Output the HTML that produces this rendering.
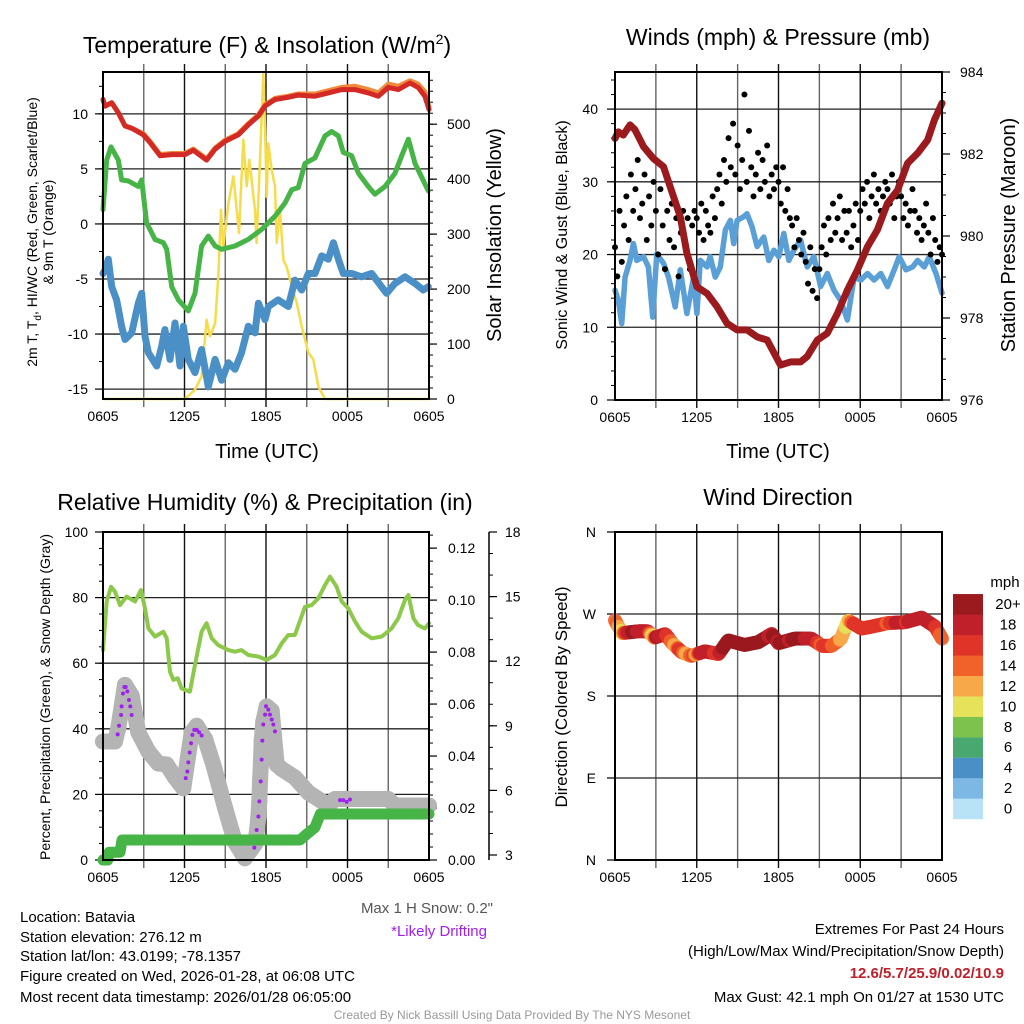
<!DOCTYPE html>
<html><head><meta charset="utf-8"><title>Batavia Mesonet Meteogram</title>
<style>
html,body{margin:0;padding:0;background:#fff;}
svg{display:block;font-family:"Liberation Sans",Arial,sans-serif;}
</style></head>
<body>
<svg id="chart" xmlns="http://www.w3.org/2000/svg" width="1024" height="1024" viewBox="0 0 1024 1024">
<rect x="0" y="0" width="1024" height="1024" fill="#fff"/>
<g id="layer"></g>
<text x="267" y="53" font-size="23" text-anchor="middle">Temperature (F) &amp; Insolation (W/m<tspan font-size="14" dy="-9">2</tspan><tspan dy="9">)</tspan></text>
<text x="778" y="45" font-size="23" text-anchor="middle">Winds (mph) &amp; Pressure (mb)</text>
<text x="265" y="510" font-size="23" text-anchor="middle">Relative Humidity (%) &amp; Precipitation (in)</text>
<text x="778" y="505" font-size="23" text-anchor="middle">Wind Direction</text>
<text x="267" y="458" font-size="20" text-anchor="middle">Time (UTC)</text>
<text x="778" y="458" font-size="20" text-anchor="middle">Time (UTC)</text>
<text transform="translate(37,232) rotate(-90)" font-size="14" text-anchor="middle">2m T, T<tspan font-size="10" dy="4">d</tspan><tspan dy="-4">, HI/WC (Red, Green, Scarlet/Blue)</tspan></text>
<text transform="translate(53,232) rotate(-90)" font-size="14" text-anchor="middle">&amp; 9m T (Orange)</text>
<text transform="translate(501,235) rotate(-90)" font-size="20" text-anchor="middle">Solar Insolation (Yellow)</text>
<text transform="translate(567,235) rotate(-90)" font-size="16" text-anchor="middle">Sonic Wind &amp; Gust (Blue, Black)</text>
<text transform="translate(1015,235) rotate(-90)" font-size="20" text-anchor="middle">Station Pressure (Maroon)</text>
<text transform="translate(50,697) rotate(-90)" font-size="14" text-anchor="middle">Percent, Precipitation (Green), &amp; Snow Depth (Gray)</text>
<text transform="translate(567,697) rotate(-90)" font-size="17" text-anchor="middle">Direction (Colored By Speed)</text>
<text x="1005" y="587" font-size="15" text-anchor="middle">mph</text>
<text x="493" y="913" font-size="15" text-anchor="end" fill="#555">Max 1 H Snow: 0.2"</text>
<text x="487" y="936" font-size="15" text-anchor="end" fill="#a020f0">*Likely Drifting</text>
<g font-size="15">
<text x="20" y="922">Location: Batavia</text>
<text x="20" y="942">Station elevation: 276.12 m</text>
<text x="20" y="961">Station lat/lon: 43.0199; -78.1357</text>
<text x="20" y="981">Figure created on Wed, 2026-01-28, at 06:08 UTC</text>
<text x="20" y="1002">Most recent data timestamp: 2026/01/28 06:05:00</text>
</g>
<g font-size="15" text-anchor="end">
<text x="1004" y="934">Extremes For Past 24 Hours</text>
<text x="1004" y="956">(High/Low/Max Wind/Precipitation/Snow Depth)</text>
<text x="1004" y="978" fill="#c0202a" font-weight="bold">12.6/5.7/25.9/0.02/10.9</text>
<text x="1004" y="1002">Max Gust: 42.1 mph On 01/27 at 1530 UTC</text>
</g>
<text x="512" y="1019" font-size="12" text-anchor="middle" fill="#999">Created By Nick Bassill Using Data Provided By The NYS Mesonet</text>
</svg>
<script>
const timeLabels = ["0605","1205","1805","0005","0605"];
const tHours = [0,0.15,0.64,1.13,1.62,2.11,2.97,3.46,4.2,5.06,6.04,6.65,7.63,8.25,8.98,9.96,10.7,11.44,11.93,12.66,13.64,14.38,15.6,16.59,17.57,18.55,19.53,20.27,21.0,21.74,22.6,23.2,23.7,24];
const tRed = [11.3,10.7,11.0,10.1,8.9,8.7,8.1,7.4,6.2,6.3,6.3,6.7,5.8,6.8,7.5,8.1,9.0,9.8,10.7,11.3,11.5,11.7,11.6,11.9,12.2,12.2,11.9,11.6,12.4,12.2,12.8,12.4,11.6,10.4];
const tOrange = [11.3,10.7,11.0,10.1,8.9,8.7,8.2,7.5,6.3,6.4,6.4,6.8,5.9,6.9,7.6,8.2,9.1,9.9,10.8,11.4,11.6,11.8,11.8,12.1,12.4,12.5,12.2,11.9,12.7,12.5,13.0,12.7,12.0,10.6];
const gHours = [0,0.27,0.59,1.13,1.37,1.87,2.6,2.85,3.21,3.83,4.44,4.69,5.06,5.55,6.28,6.77,7.26,7.75,8.25,8.74,9.72,10.7,11.68,12.66,13.4,13.89,14.38,14.87,15.6,16.34,16.83,17.33,17.69,18.3,18.8,19.53,20.02,20.76,21.5,21.99,22.48,22.97,23.95];
const tGreen = [1.3,5.8,7.0,5.8,4.0,3.9,3.4,4.0,0.1,-1.4,-1.7,-2.3,-5.7,-6.9,-7.9,-6.3,-2.0,-1.1,-2.0,-2.3,-2.0,-1.4,-0.5,0.7,1.9,3.1,3.3,5.5,6.0,8.0,8.4,8.0,6.5,6.2,4.6,3.4,2.7,3.4,4.6,6.2,7.7,5.5,3.0];
const bHours = [0,0.15,0.39,0.64,1.0,1.37,1.62,2.11,2.6,2.85,3.09,3.34,3.95,4.32,4.56,4.93,5.3,5.67,5.91,6.28,6.77,7.26,7.75,8.25,8.74,9.23,9.72,10.2,10.7,11.19,11.44,11.93,12.17,12.9,13.64,14.13,14.63,15.12,15.61,16.1,16.59,16.96,17.33,17.69,18.3,19.04,19.78,20.5,20.88,21.5,22.23,22.97,23.58,23.95];
const tBlue = [-4.5,-4.2,-3.2,-5.7,-6.9,-9.3,-10.5,-9.9,-7.2,-6.3,-10.2,-11.7,-12.9,-11.1,-9.6,-12.3,-9.0,-12.9,-9.3,-12.3,-13.5,-11.4,-14.8,-12.3,-14.2,-12.6,-13.2,-11.7,-9.3,-9.9,-7.2,-8.7,-7.5,-6.9,-7.5,-5.1,-6.0,-4.5,-4.5,-2.9,-3.2,-1.7,-3.2,-4.5,-4.5,-4.8,-4.5,-5.7,-6.3,-5.4,-4.8,-5.4,-6.0,-5.7];
const sHours = [0,6.04,6.77,7.26,7.63,7.88,8.25,8.49,8.69,8.86,9.23,9.6,9.84,10.01,10.33,10.58,10.77,10.94,11.19,11.31,11.56,11.8,11.93,12.05,12.17,12.42,12.66,12.79,13.03,13.28,13.52,13.89,14.26,14.63,15.12,15.48,15.85,16.34,24];
const solar = [0,0,17,41,144,114,138,223,344,278,356,405,344,302,472,387,435,399,344,284,435,593,496,368,465,417,387,284,344,253,241,205,175,132,84,72,23,0,0];
const tempTicks = [-15,-10,-5,0,5,10];
const solarTicks = [0,100,200,300,400,500];
const pHours = [0,0.25,0.61,1.1,1.47,2.09,2.82,3.56,4.05,4.79,5.28,6.01,6.75,7.48,8.22,8.96,9.69,10.43,11.17,12.15,12.88,13.62,14.11,14.85,15.58,16.32,17.06,17.79,18.53,19.26,20.0,20.74,21.47,22.21,22.94,23.44,24];
const pressure = [982.38,982.54,982.46,982.71,982.59,982.18,981.89,981.69,981.2,980.47,979.58,978.76,978.6,978.28,977.87,977.71,977.71,977.54,977.46,976.85,976.93,976.93,977.06,977.46,977.63,978.11,978.68,979.17,979.74,980.15,980.8,981.12,981.77,982.02,982.34,982.83,983.24];
const wHours = [0,0.25,0.49,0.74,1.1,1.35,1.6,2.09,2.45,2.77,3.07,3.56,3.93,4.42,4.79,5.28,5.77,6.01,6.26,6.75,6.99,7.36,7.73,8.1,8.47,8.71,8.96,9.45,9.69,10.06,10.43,10.92,11.29,11.66,12.02,12.39,12.76,13.13,13.62,14.11,14.6,15.09,15.58,16.07,16.56,17.06,17.55,18.04,18.53,19.02,19.51,20.0,20.49,20.86,21.35,21.84,22.21,22.7,23.07,23.56,24];
const wind = [15.1,13.7,10.5,16.9,19.2,21.5,19.2,19.7,18.3,11.4,20.1,18.8,16.9,12.8,17.9,11.9,16.9,11.9,19.2,18.3,19.7,16.9,18.3,23.4,24.7,21.5,24.7,25.2,25.6,23.8,21.1,22.4,19.2,20.6,19.7,22.9,19.2,20.6,22.0,18.3,19.7,15.6,17.4,15.1,13.7,11.0,16.9,16.5,17.4,16.5,17.4,15.6,17.9,19.7,17.9,18.3,19.2,18.3,19.7,17.4,14.7];
const gusts = [21,17,26,19,24,28, 22,31,26,29,33,25, 27,31,22,28,24,30, 26,20,29,24,18,26, 22,27,21,25,17,23, 26,21,25,18,24,26, 25,23,27,22,26,24, 23,28,25,29,31,27, 33,30,36,32,38,31, 35,29,33,42,30,37, 32,28,31,34,29,33, 30,35,28,31,29,32, 30,27,32,26,29,25, 24,21,25,22,20,23, 19,16,21,15,18,14, 18,21,24,20,25,22, 27,23,25,28,22,26, 23,26,21,24,27,22, 26,29,27,30,25,28, 31,27,29,26,28,30, 29,27,31,25,28,30, 28,25,27,24,26,29, 26,23,25,22,24,27, 23,20,25,22,19,21, 20];
const windTicks = [0,10,20,30,40];
const pressTicks = [976,978,980,982,984];
const rhHours = [0,0.27,0.59,0.88,1.25,1.74,2.36,2.8,3.09,3.34,3.83,4.44,4.69,4.93,5.18,5.5,5.79,6.4,6.77,7.26,7.63,8.0,8.49,9.23,9.72,10.2,10.7,11.44,12.05,12.66,13.15,13.64,14.13,14.87,15.36,15.85,16.34,16.71,17.2,17.57,18.06,18.55,19.04,19.78,20.52,21.25,21.74,22.23,22.48,22.85,23.2,23.7,24];
const rh = [64,78.8,83.3,81.8,77.7,80.3,78.8,82.3,76.7,70.6,68.1,69.6,67.6,57.4,54.9,55.4,52.3,51.3,59.5,69.6,72.2,67.6,65.5,64,63.5,64,62.5,62,61,62.5,66,68.6,68.6,77.2,77.7,79.8,83.8,86.4,83.3,78.8,76.7,72.7,69.6,67.6,68.1,70.6,73.7,79.3,80.8,73.7,71.6,70.6,72.2];
const precipHours = [0,0.35,0.45,1.25,1.4,14.5,14.9,15.6,16.0,24];
const precip = [0,0,0.003,0.003,0.0077,0.0077,0.0095,0.0125,0.0177,0.0177];
const snowHours = [0,0.88,1.13,1.62,2.11,2.6,3.34,4.07,4.69,5.3,5.91,6.53,6.9,7.51,8.12,8.98,9.72,10.45,11.19,11.36,11.44,11.51,11.56,11.63,11.68,11.8,12.05,12.42,12.79,13.15,14.13,15.12,16.1,16.59,17.08,18.55,21.0,21.5,24];
const snow = [8.27,8.27,8.9,10.9,10.4,8.7,7.8,7.25,7.2,6.6,6.1,8.7,9.0,8.4,7.2,5.2,3.6,2.85,3.5,4.25,4.8,5.5,6.4,7.4,8.3,9.2,9.9,9.7,7.2,7.0,6.6,5.9,5.5,5.3,5.6,5.6,5.6,5.3,5.3];
const driftHours = [1.08,1.18,1.33,1.37,1.47,1.57,1.67,1.79,1.91,2.01,2.11, 6.09,6.21,6.28,6.38,6.48,6.58,6.72,6.9,7.07,7.26, 11.14,11.31,11.44,11.51,11.61,11.68,11.73,11.8,11.93,12.0,12.17,12.29,12.42,12.54,12.66, 17.45,17.69,17.94,18.18];
const drift = [8.6,9.0,9.5,9.9,10.5,10.8,10.8,10.6,10.2,9.9,9.5, 6.57,6.88,7.3,7.76,8.19,8.58,8.81,8.81,8.7,8.55, 3.34,4.16,4.79,5.49,6.42,7.43,8.31,9.06,9.52,9.91,9.75,9.52,9.29,9.06,8.74, 5.55,5.55,5.47,5.58];
const rhTicks = [0,20,40,60,80,100];
const precipTicks = [0,0.02,0.04,0.06,0.08,0.10,0.12];
const snowTicks = [3,6,9,12,15,18];
const dirHours = [0,0.5,1.7,2.4,2.9,3.7,4.2,4.9,5.6,6.6,7.6,8.3,9.5,10.5,11.5,12,13.2,14.4,15.2,15.9,16.6,17.1,18.1,18.8,20,21.3,22.5,23.5,24];
const direction = [263,249,251,251,244,248,238,228,224,229,226,241,236,239,248,238,243,243,235,235,243,263,254,256,260,261,266,256,243];
const dirTicks = [0,90,180,270,360];
const dirTickLabels = ["N","E","S","W","N"];
const speedBins = [0,2,4,6,8,10,12,14,16,18,20];
const speedLabels = ["0","2","4","6","8","10","12","14","16","18","20+"];
const speedColors = ["#b8e2f6","#7db8e4","#4a8fc6","#48a870","#7cc24c","#e6e25a","#f7a848","#f0622a","#e03428","#c0202a","#9a1a1e"];

const NS = "http://www.w3.org/2000/svg";
const layer = document.getElementById('layer');
function mk(tag, attrs, parent){
  const e = document.createElementNS(NS, tag);
  for (const k in attrs) e.setAttribute(k, attrs[k]);
  (parent || layer).appendChild(e);
  return e;
}
function lin(d0,d1,r0,r1){ return v => r0 + (v-d0)/(d1-d0)*(r1-r0); }
function interp(xs, ys, x){
  if (x <= xs[0]) return ys[0];
  for (let i=1;i<xs.length;i++){ if (x <= xs[i]) { const t=(x-xs[i-1])/(xs[i]-xs[i-1]); return ys[i-1]+t*(ys[i]-ys[i-1]); } }
  return ys[ys.length-1];
}
function pathOf(xs, ys, sx, sy){ return xs.map((h,i)=>(i?'L':'M')+sx(h).toFixed(1)+','+sy(ys[i]).toFixed(1)).join(''); }

const P1 = {L:103,R:429,T:72,B:399};
const P2 = {L:615,R:942,T:72,B:400};
const P3 = {L:103,R:429,T:532,B:860};
const P4 = {L:615,R:942,T:532,B:860};

function frame(p, name, hLines, sy){
  const g = mk('g', {});
  
  
  const sx = lin(0,24,p.L,p.R);
  for (let h=3; h<24; h+=3){
    const l = mk('line', {x1:sx(h),x2:sx(h),y1:p.T-8,y2:p.B+8,stroke:(h%6===0)?'#111':'#666','stroke-width':1.4}, g);
    
    
  }
  hLines.forEach(v=>{
    const l = mk('line', {x1:p.L,x2:p.R,y1:sy(v),y2:sy(v),stroke:'#222','stroke-width':1.3}, g);
    
    
  });
  timeLabels.forEach((lab,i)=>{
    const t = mk('text', {x:sx(i*6), y:p.B+22, 'font-size':14, 'text-anchor':'middle'}, g);
    t.textContent = lab;
    
    
  });
  return sx;
}
function box(p, name){
  const r = mk('rect', {x:p.L,y:p.T,width:p.R-p.L,height:p.B-p.T,fill:'none',stroke:'#000','stroke-width':2});
  
  
}
function yAxis(x, sy, ticks, labels, side, minorStep, lo, hi, name, labelX){
  const g = mk('g', {});
  
  
  const dir = side === 'left' ? -1 : 1;
  if (minorStep){
    for (let v=lo; v<=hi+1e-9; v+=minorStep){
      const m = mk('line', {x1:x,x2:x+dir*4,y1:sy(v),y2:sy(v),stroke:'#000','stroke-width':1}, g);
      
      
    }
  }
  ticks.forEach((v,i)=>{
    const m = mk('line', {x1:x,x2:x+dir*8,y1:sy(v),y2:sy(v),stroke:'#000','stroke-width':1.2}, g);
    
    
    const t = mk('text', {x:labelX, y:sy(v)+5, 'font-size':14, 'text-anchor': side==='left'?'end':'start'}, g);
    t.textContent = labels[i];
    
    
  });
}

// Panel 1
const y1 = lin(-15.9,13.8,P1.B,P1.T);
const y1r = lin(0,595,P1.B,P1.T);
const sx1 = frame(P1, 'temperature', [10,5,0,-5,-10,-15], y1);
yAxis(P1.L, y1, tempTicks, tempTicks.map(String), 'left', 2.5, -15, 12.5, 'temperature-y-axis', 88);
yAxis(P1.R, y1r, solarTicks, solarTicks.map(String), 'right', 20, 0, 580, 'insolation-y-axis', 447);
const solarLine = mk('path', {d:pathOf(sHours, solar, sx1, y1r), fill:'none', stroke:'#f6dc4a','stroke-width':2.5,'stroke-linejoin':'round'});


const blueLine = mk('path', {d:pathOf(bHours, tBlue, sx1, y1), fill:'none', stroke:'#4a8fc6','stroke-width':7,'stroke-linejoin':'round','stroke-linecap':'round'});


const greenLine = mk('path', {d:pathOf(gHours, tGreen, sx1, y1), fill:'none', stroke:'#46b446','stroke-width':5,'stroke-linejoin':'round','stroke-linecap':'round'});


const orangeLine = mk('path', {d:pathOf(tHours, tOrange, sx1, y1), fill:'none', stroke:'#f08a3a','stroke-width':5,'stroke-linejoin':'round','stroke-linecap':'round'});


const redLine = mk('path', {d:pathOf(tHours, tRed, sx1, y1), fill:'none', stroke:'#d42a26','stroke-width':5,'stroke-linejoin':'round','stroke-linecap':'round'});


box(P1, 'temperature');

// Panel 2
const y2 = lin(0,45.1,P2.B,P2.T);
const y2r = lin(976,984,P2.B,P2.T);
const sx2 = frame(P2, 'winds', [10,20,30,40], y2);
yAxis(P2.L, y2, windTicks, windTicks.map(String), 'left', 2, 0, 44, 'wind-y-axis', 598);
yAxis(P2.R, y2r, pressTicks, pressTicks.map(String), 'right', 0.5, 976, 984, 'pressure-y-axis', 960);
const windLine = mk('path', {d:pathOf(wHours, wind, sx2, y2), fill:'none', stroke:'#5a9fd6','stroke-width':5.5,'stroke-linejoin':'round','stroke-linecap':'round'});


const gustG = mk('g', {});


gusts.forEach((v,i)=>{
  const c = mk('circle', {cx:sx2(i/6), cy:y2(v), r:3, fill:'#000'}, gustG);
  
  
});
const pressLine = mk('path', {d:pathOf(pHours, pressure, sx2, y2r), fill:'none', stroke:'#9a1a1e','stroke-width':7,'stroke-linejoin':'round','stroke-linecap':'round'});


box(P2, 'winds');

// Panel 3
const y3 = lin(0,100,P3.B,P3.T);
const y3p = lin(0,0.1262,P3.B,P3.T);
const y3s = lin(3,18,855,532);
const sx3 = frame(P3, 'humidity', [20,40,60,80], y3);
yAxis(P3.L, y3, rhTicks, rhTicks.map(String), 'left', 5, 0, 100, 'humidity-y-axis', 88);
yAxis(P3.R, y3p, precipTicks, precipTicks.map(v=>v.toFixed(2)), 'right', 0.005, 0, 0.125, 'precip-y-axis', 448);
const snowAxis = mk('line', {x1:489,x2:489,y1:532,y2:860,stroke:'#000','stroke-width':1.5});


yAxis(489, y3s, snowTicks, snowTicks.map(String), 'right', 1, 3, 18, 'snow-y-axis', 505);
const snowLine = mk('path', {d:pathOf(snowHours, snow, sx3, y3s), fill:'none', stroke:'#b4b4b4','stroke-width':16,'stroke-linejoin':'round','stroke-linecap':'round'});


snowHours.forEach((h,i)=>{
  const c = mk('circle', {cx:sx3(h), cy:y3s(snow[i]), r:8, fill:'#b4b4b4'});
  
  
});
const rhLine = mk('path', {d:pathOf(rhHours, rh, sx3, y3), fill:'none', stroke:'#8cc84a','stroke-width':4,'stroke-linejoin':'round','stroke-linecap':'round'});


const precipLine = mk('path', {d:pathOf(precipHours, precip, sx3, y3p), fill:'none', stroke:'#46b446','stroke-width':11,'stroke-linejoin':'round','stroke-linecap':'round'});


driftHours.forEach((h,i)=>{
  const c = mk('circle', {cx:sx3(h), cy:y3s(drift[i]), r:2, fill:'#a020f0'});
  
  
});
box(P3, 'humidity');

// Panel 4
const y4 = lin(0,360,P4.B,P4.T);
const sx4 = frame(P4, 'direction', [90,180,270], y4);
yAxis(P4.L, y4, dirTicks, dirTickLabels, 'left', 0, 0, 0, 'direction-y-axis', 596);
function speedColor(s){ let idx = 0; speedBins.forEach((b,i)=>{ if (s >= b) idx = i; }); return speedColors[idx]; }
for (let k=0; k<=24*12; k++){
  const h = k/12;
  const d = interp(dirHours, direction, h);
  const s = interp(wHours, wind, h);
  const c = mk('circle', {cx:sx4(h), cy:y4(d), r:7, fill:speedColor(s), 'fill-opacity':0.9});
  
  
}
box(P4, 'direction');
const cb = mk('g', {});


speedColors.forEach((col,i)=>{
  const y0 = 819 - (i+1)*20.45;
  const r = mk('rect', {x:953,y:y0,width:30,height:20.6,fill:col}, cb);
  
  
  const t = mk('text', {x:1008, y:y0+15, 'font-size':15, 'text-anchor':'middle'}, cb);
  t.textContent = speedLabels[i];
  
  
});
</script>
</body></html>
